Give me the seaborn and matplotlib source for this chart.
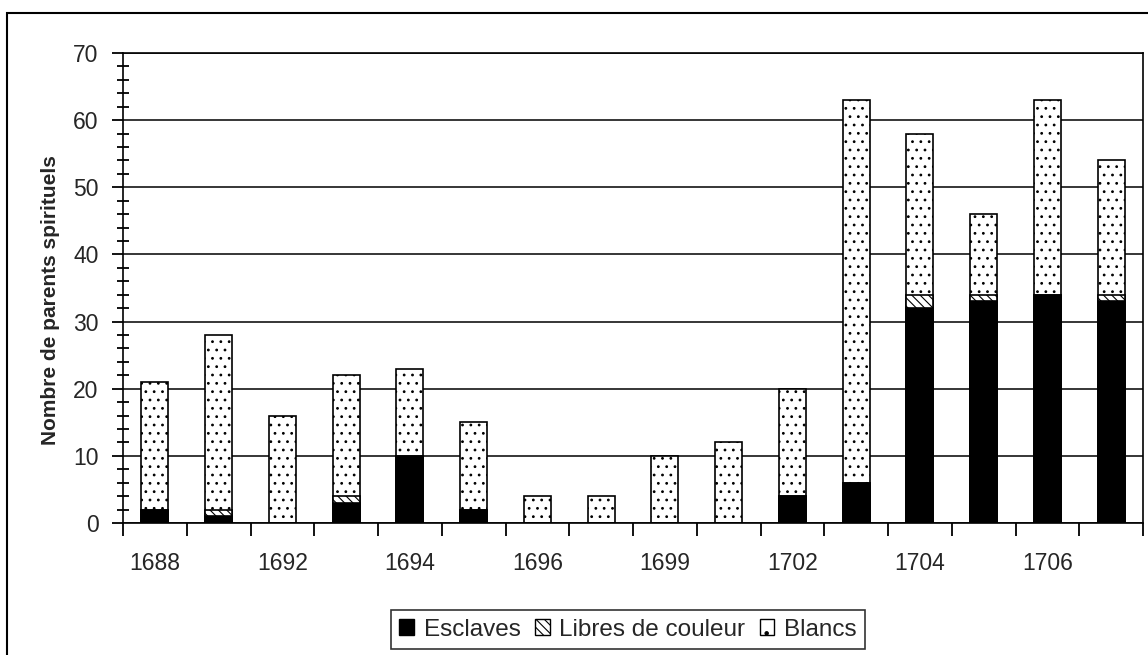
import numpy as np
import matplotlib
matplotlib.use("Agg")
import matplotlib.pyplot as plt
from matplotlib.patches import Patch, Rectangle
from matplotlib.ticker import MultipleLocator, FixedLocator
import seaborn as sns

# donnees
annees = ['1688', '1690', '1692', '1693', '1694', '1695', '1696', '1697',
          '1699', '1700', '1702', '1703', '1704', '1705', '1706', '1707']
esclaves = [2, 1, 0, 3, 10, 2, 0, 0, 0, 0, 4, 6, 32, 33, 34, 33]
libres = [0, 1, 0, 1, 0, 0, 0, 0, 0, 0, 0, 0, 2, 1, 0, 1]
blancs = [19, 26, 16, 18, 13, 13, 4, 4, 10, 12, 16, 57, 24, 12, 29, 20]
series = ['Esclaves', 'Libres de couleur', 'Blancs']

sns.set_style("white")
plt.rcParams['font.family'] = ['Liberation Sans', 'DejaVu Sans']
plt.rcParams['hatch.linewidth'] = 0.8

esc = np.array(esclaves)
esc_lib = esc + np.array(libres)
total = esc_lib + np.array(blancs)

fig = plt.figure(figsize=(11.48, 6.55), dpi=100)
ax = fig.add_axes([123 / 1148, 1 - 523 / 655, 1020 / 1148, 470 / 655])
ax.set_axisbelow(True)

# barres empilees : total, puis esclaves + libres, puis esclaves par-dessus
sns.barplot(x=annees, y=total, order=annees, color='white', saturation=1,
            edgecolor='black', linewidth=1.2, hatch='..', width=0.42,
            errorbar=None, ax=ax)
sns.barplot(x=annees, y=esc_lib, order=annees, color='white', saturation=1,
            edgecolor='black', linewidth=1.2, hatch='\\\\\\\\', width=0.42,
            errorbar=None, ax=ax)
sns.barplot(x=annees, y=esc, order=annees, color='black', saturation=1,
            edgecolor='black', linewidth=1.2, width=0.42,
            errorbar=None, ax=ax)

ax.set_ylim(0, 70)
ax.set_xlim(-0.5, len(annees) - 0.5)
ax.yaxis.set_major_locator(MultipleLocator(10))
ax.yaxis.set_minor_locator(MultipleLocator(2))
ax.grid(axis='y', which='major', color='black', linewidth=1.1)
ax.grid(axis='x', visible=False)

etiquettes = [a if i % 2 == 0 else '' for i, a in enumerate(annees)]
ax.set_xticks(range(len(annees)))
ax.set_xticklabels(etiquettes)
ax.xaxis.set_minor_locator(FixedLocator(np.arange(-0.5, len(annees), 1)))

ax.tick_params(axis='x', which='major', bottom=True, length=0, pad=21, labelsize=16.5)
ax.tick_params(axis='x', which='minor', bottom=True, direction='out', length=9,
               width=1.3, color='black')
ax.tick_params(axis='y', which='major', left=True, direction='out', length=8, width=1.3,
               pad=9.5, labelsize=16.5, color='black')
ax.tick_params(axis='y', which='minor', left=True, direction='inout', length=9,
               width=1.3, color='black')

ax.set_xlabel('')
ax.set_ylabel('Nombre de parents spirituels', fontsize=15, fontweight='bold')
ax.yaxis.set_label_coords(-0.062, 0.474)

for s in ax.spines.values():
    s.set_visible(True)
    s.set_color('black')
    s.set_linewidth(1.2)

handles = [
    Patch(facecolor='black', edgecolor='black', label=series[0]),
    Patch(facecolor='white', edgecolor='black', hatch='\\\\\\\\', label=series[1]),
    Patch(facecolor='white', edgecolor='black', hatch='.', label=series[2]),
]
leg = fig.legend(handles=handles, loc='center', bbox_to_anchor=(628 / 1148, 1 - 629.7 / 655),
                 ncol=3, frameon=True, fancybox=False, fontsize=17.5,
                 handlelength=0.6, handleheight=0.6, handletextpad=0.4,
                 columnspacing=0.6, borderpad=0.35, borderaxespad=0,
                 edgecolor='black')
leg.get_frame().set_linewidth(1.2)

# cadre exterieur du graphique
fig.patches.append(Rectangle((7 / 1148, -0.05), 1.1, 1 - 13 / 655 + 0.05,
                             transform=fig.transFigure, fill=False,
                             edgecolor='black', linewidth=1.5))

fig.savefig('out.png', dpi=100)
